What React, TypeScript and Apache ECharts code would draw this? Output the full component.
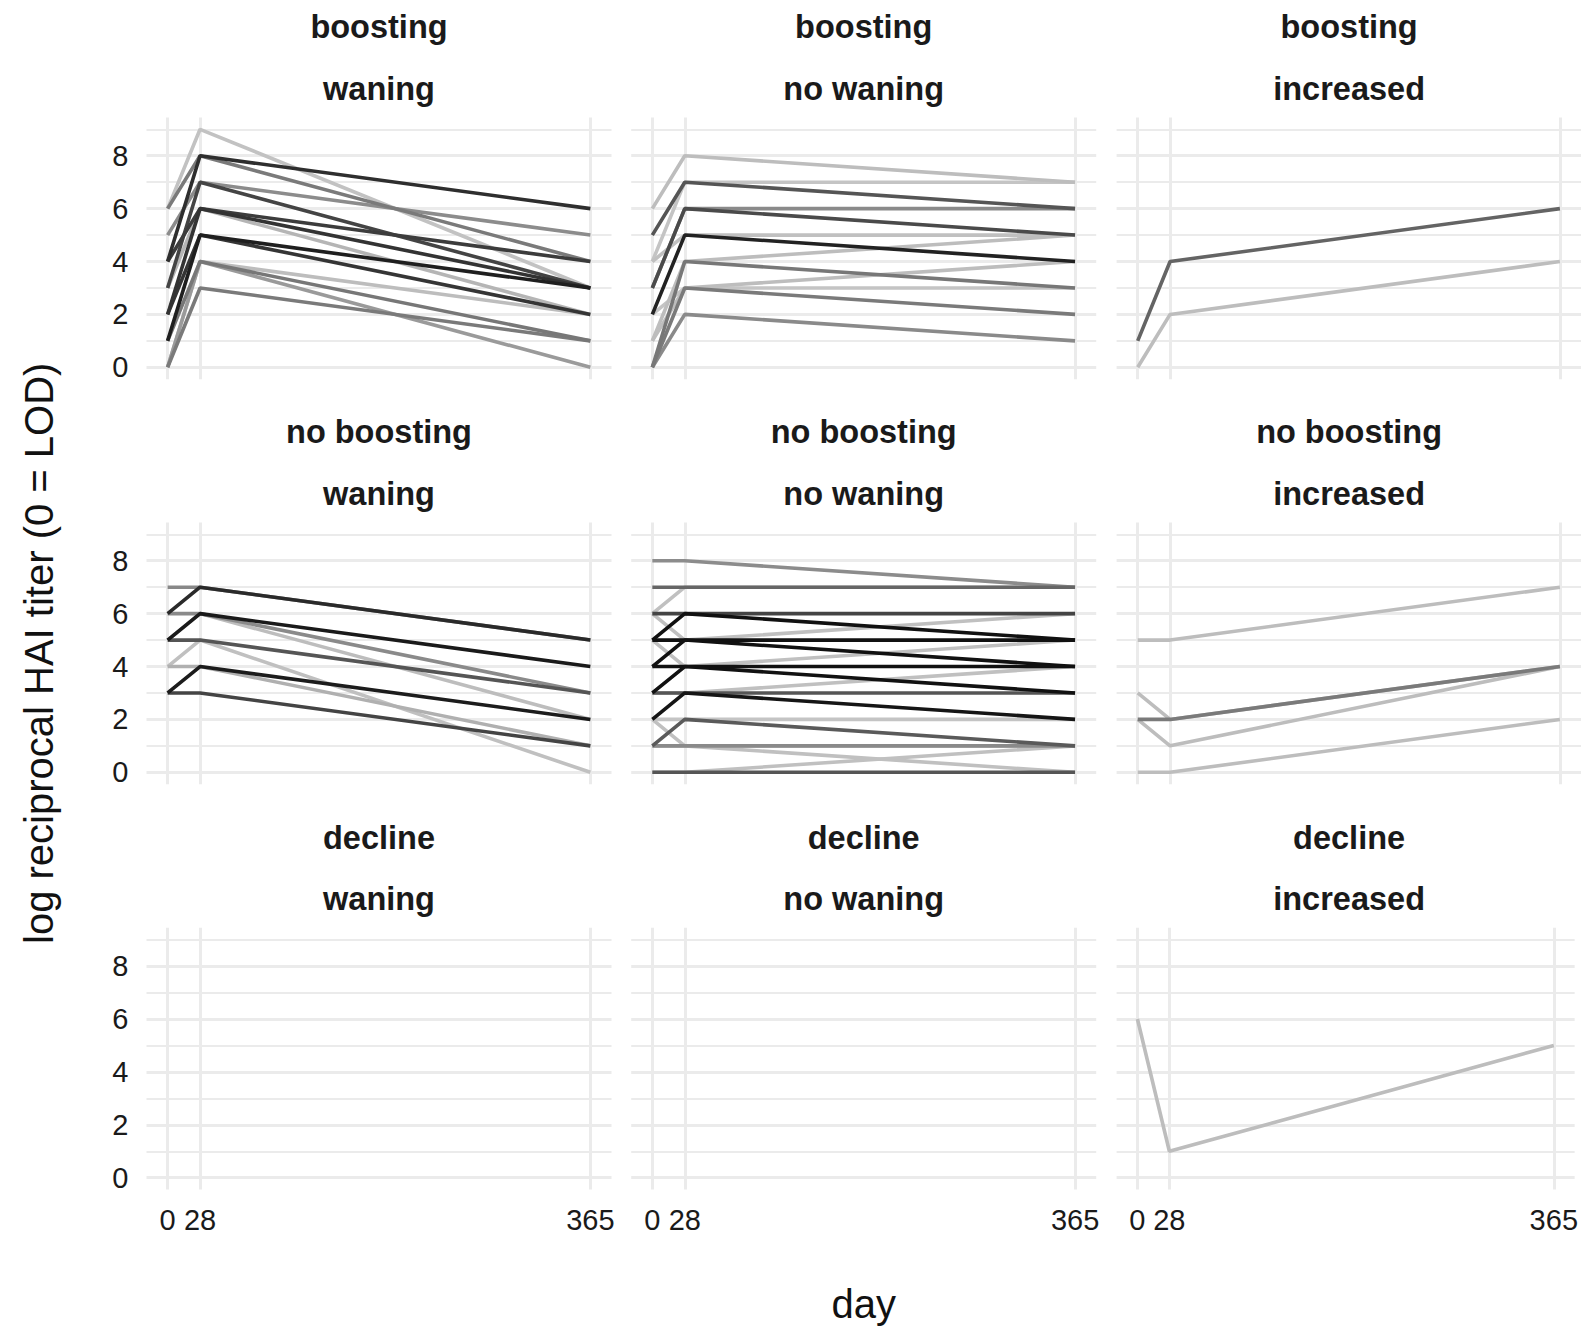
import React, { useEffect, useRef } from "react";
import * as echarts from "echarts";

// ---- data ----
const DAYS = [0, 28, 365];
const X_TICKS = [0, 28, 365];
const Y_TICKS = [0, 2, 4, 6, 8];
const ROW_LABELS = ["boosting", "no boosting", "decline"];
const COL_LABELS = ["waning", "no waning", "increased"];

// each row: titer at day 0, day 28, day 365
const boostingWaning = [
  [6, 9, 3], [6, 8, 4], [4, 8, 6], [5, 7, 5], [3, 7, 3], [4, 6, 4], [2, 6, 3],
  [3, 6, 2], [1, 5, 3], [2, 5, 2], [0, 4, 2], [1, 4, 1], [0, 4, 0], [0, 3, 1],
];
const boostingWaningGrey = [
  "#c2c2c2", "#7a7a7a", "#2e2e2e", "#8c8c8c", "#444444", "#3c3c3c", "#333333",
  "#b5b5b5", "#1f1f1f", "#353535", "#bdbdbd", "#777777", "#9a9a9a", "#7a7a7a",
];

const boostingNoWaning = [
  [6, 8, 7], [5, 7, 6], [4, 7, 7], [3, 6, 5], [3, 6, 6], [2, 5, 4], [4, 5, 5],
  [1, 4, 5], [0, 4, 3], [1, 3, 4], [0, 3, 2], [2, 3, 3], [0, 2, 1],
];
const boostingNoWaningGrey = [
  "#bdbdbd", "#555555", "#c4c4c4", "#4a4a4a", "#8a8a8a", "#222222", "#c0c0c0",
  "#bdbdbd", "#777777", "#bdbdbd", "#7a7a7a", "#c4c4c4", "#8a8a8a",
];

const boostingIncreased = [[1, 4, 6], [0, 2, 4]];
const boostingIncreasedGrey = ["#646464", "#bdbdbd"];

const noBoostingWaning = [
  [7, 7, 5], [6, 7, 5], [6, 6, 3], [5, 6, 4], [5, 6, 2], [4, 5, 0],
  [5, 5, 3], [3, 4, 2], [4, 4, 1], [3, 3, 1],
];
const noBoostingWaningGrey = [
  "#888888", "#2a2a2a", "#8a8a8a", "#1a1a1a", "#bdbdbd", "#c0c0c0",
  "#555555", "#1c1c1c", "#b0b0b0", "#444444",
];

const noBoostingNoWaning = [
  [8, 8, 7], [7, 7, 7], [6, 7, 7], [6, 6, 6], [6, 5, 6], [5, 6, 5], [5, 5, 5],
  [5, 4, 5], [4, 5, 4], [4, 4, 4], [3, 3, 4], [3, 4, 3], [3, 3, 3], [2, 3, 2],
  [2, 2, 2], [2, 1, 1], [1, 2, 1], [1, 1, 0], [1, 1, 1], [0, 0, 1], [0, 0, 0],
];
const noBoostingNoWaningGrey = [
  "#8c8c8c", "#666666", "#c0c0c0", "#444444", "#c0c0c0", "#111111", "#111111",
  "#c0c0c0", "#111111", "#111111", "#c0c0c0", "#111111", "#555555", "#151515",
  "#c4c4c4", "#c0c0c0", "#5a5a5a", "#c0c0c0", "#8a8a8a", "#c0c0c0", "#555555",
];

const noBoostingIncreased = [[5, 5, 7], [3, 2, 4], [2, 2, 4], [2, 1, 4], [0, 0, 2]];
const noBoostingIncreasedGrey = ["#bdbdbd", "#bdbdbd", "#7a7a7a", "#bdbdbd", "#bdbdbd"];

const declineWaning: number[][] = [];
const declineWaningGrey: string[] = [];
const declineNoWaning: number[][] = [];
const declineNoWaningGrey: string[] = [];
const declineIncreased = [[6, 1, 5]];
const declineIncreasedGrey = ["#bdbdbd"];

const PANELS: [number[][], string[]][] = [
  [boostingWaning, boostingWaningGrey],
  [boostingNoWaning, boostingNoWaningGrey],
  [boostingIncreased, boostingIncreasedGrey],
  [noBoostingWaning, noBoostingWaningGrey],
  [noBoostingNoWaning, noBoostingNoWaningGrey],
  [noBoostingIncreased, noBoostingIncreasedGrey],
  [declineWaning, declineWaningGrey],
  [declineNoWaning, declineNoWaningGrey],
  [declineIncreased, declineIncreasedGrey],
];

// ---- layout ----
const W = 1581;
const H = 1327;
const COL_LEFT = [146.5, 631.2, 1116.6];
const PANEL_W = 465;
const ROW_TOP = [117.4, 522.4, 927.8];
const PANEL_H = 261.8;
const X_MIN = -18.25;
const X_MAX = 383.25;
const Y_MIN = -0.45;
const Y_MAX = 9.45;
const FONT = "'Liberation Sans', Arial, Helvetica, sans-serif";
const GRID_COLOR = "#ebebeb";

function lightness(c: string) {
  return parseInt(c.slice(1, 3), 16);
}

export default function App() {
  const ref = useRef<HTMLDivElement>(null);
  useEffect(() => {
    if (!ref.current) return;
    const chart = echarts.init(ref.current, null, { renderer: "svg" });

    const grids: any[] = [];
    const xAxes: any[] = [];
    const yAxes: any[] = [];
    const series: any[] = [];
    const graphics: any[] = [];

    for (let r = 0; r < 3; r++) {
      for (let c = 0; c < 3; c++) {
        const i = r * 3 + c;
        grids.push({
          left: COL_LEFT[c],
          top: ROW_TOP[r],
          width: PANEL_W,
          height: PANEL_H,
          containLabel: false,
        });
        xAxes.push({
          type: "value",
          gridIndex: i,
          min: X_MIN,
          max: X_MAX,
          axisLine: { show: false },
          axisTick: { show: false, customValues: X_TICKS },
          splitLine: { show: false },
          axisLabel: {
            show: r === 2,
            customValues: X_TICKS,
            margin: 16,
            fontSize: 29,
            color: "#1a1a1a",
            fontFamily: FONT,
          },
          ...(r === 2 && c === 1
            ? {
                name: "day",
                nameLocation: "middle",
                nameGap: 94,
                nameTextStyle: { fontSize: 40, color: "#111", fontFamily: FONT },
              }
            : {}),
        });
        yAxes.push({
          type: "value",
          gridIndex: i,
          min: Y_MIN,
          max: Y_MAX,
          axisLine: { show: false },
          axisTick: { show: false, customValues: Y_TICKS },
          splitLine: { show: false },
          axisLabel: {
            show: c === 0,
            customValues: Y_TICKS,
            margin: 18,
            fontSize: 29,
            color: "#1a1a1a",
            fontFamily: FONT,
          },
          ...(r === 1 && c === 0
            ? {
                name: "log reciprocal HAI titer (0 = LOD)",
                nameLocation: "middle",
                nameGap: 88,
                nameRotate: 90,
                nameTextStyle: { fontSize: 40, color: "#111", fontFamily: FONT },
              }
            : {}),
        });

        // panel grid lines
        const ml: any[] = [];
        for (let v = 0; v <= 9; v++) {
          ml.push({ yAxis: v, lineStyle: { width: v % 2 === 0 ? 3 : 1.8 } });
        }
        X_TICKS.forEach((d) => ml.push({ xAxis: d, lineStyle: { width: 3 } }));
        series.push({
          type: "line",
          xAxisIndex: i,
          yAxisIndex: i,
          data: [],
          z: 0,
          silent: true,
          markLine: {
            silent: true,
            z: 0,
            symbol: ["none", "none"],
            label: { show: false },
            lineStyle: { color: GRID_COLOR, type: "solid" },
            data: ml,
          },
        });

        const [vals, greys] = PANELS[i];
        const order = vals
          .map((_, k) => k)
          .sort((a, b) => lightness(greys[b]) - lightness(greys[a]));
        order.forEach((k) => {
          series.push({
            type: "line",
            xAxisIndex: i,
            yAxisIndex: i,
            symbol: "none",
            z: 3,
            silent: true,
            lineStyle: { color: greys[k], width: 3.6 },
            data: DAYS.map((d, j) => [d, vals[k][j]]),
          });
        });

        const cx = COL_LEFT[c] + PANEL_W / 2;
        graphics.push({
          type: "text",
          x: cx,
          y: ROW_TOP[r] - 90.2,
          style: {
            text: ROW_LABELS[r],
            align: "center",
            verticalAlign: "middle",
            fontSize: 32.5,
            fontWeight: "bold",
            fontFamily: FONT,
            fill: "#1a1a1a",
          },
        });
        graphics.push({
          type: "text",
          x: cx,
          y: ROW_TOP[r] - 28.7,
          style: {
            text: COL_LABELS[c],
            align: "center",
            verticalAlign: "middle",
            fontSize: 32.5,
            fontWeight: "bold",
            fontFamily: FONT,
            fill: "#1a1a1a",
          },
        });
      }
    }

    chart.setOption({
      animation: false,
      backgroundColor: "#ffffff",
      textStyle: { fontFamily: FONT },
      grid: grids,
      xAxis: xAxes,
      yAxis: yAxes,
      series,
      graphic: graphics,
    });
    return () => chart.dispose();
  }, []);

  return (
    <div
      ref={ref}
      style={{ position: "fixed", left: 0, top: 0, width: W, height: H, background: "#fff" }}
    />
  );
}
